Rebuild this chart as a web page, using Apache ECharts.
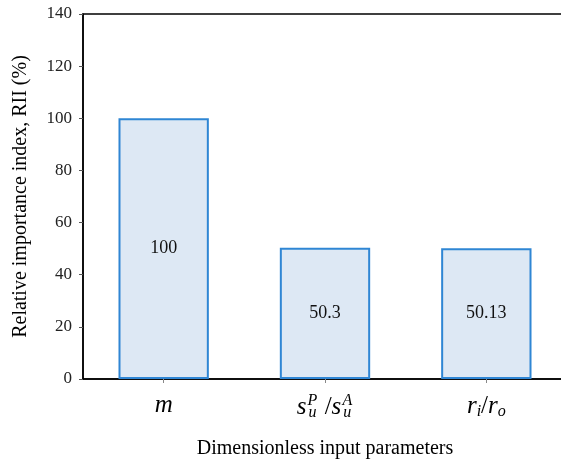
<!DOCTYPE html>
<html><head><meta charset="utf-8">
<script src="https://cdn.jsdelivr.net/npm/echarts@6/dist/echarts.min.js"></script>
<style>html,body{margin:0;padding:0;background:#fff}#c{width:561px;height:460px}</style>
</head><body><div id="c"></div>
<script>
const categories = ['m', 'ratio_s', 'ratio_r'];
const categoryLabels = [
  '{it|m}',
  '{it|s}{sp| }{subz|u}{supz|P}{sp| }{n| /}{it|s}{sp| }{subz|u}{supz|A}{sp| }',
  '{it|r}{sub|i}{n|/}{it|r}{sub|o}'
];
const riiValues = [100, 50.3, 50.13];
const riiLabels = ['100', '50.3', '50.13'];
const yTicks = [0, 20, 40, 60, 80, 100, 120, 140];

const serif = '"Liberation Serif", "Times New Roman", serif';
const chart = echarts.init(document.getElementById('c'));
chart.setOption({
  animation: false,
  grid: { left: 83, width: 484, top: 14, height: 365, outerBoundsMode: 'none', containLabel: false,
    show: true, borderColor: '#000', borderWidth: 1.5, backgroundColor: 'transparent' },
  xAxis: {
    type: 'category',
    data: categories,
    name: 'Dimensionless input parameters',
    nameLocation: 'middle',
    nameGap: 60,
    nameTextStyle: { fontFamily: serif, fontSize: 20, color: '#000' },
    axisLine: { lineStyle: { color: '#000', width: 1.5 } },
    axisTick: { show: true, alignWithLabel: true, length: 4, lineStyle: { color: '#888' } },
    axisLabel: {
      margin: 14,
      interval: 0,
      hideOverlap: false,
      formatter: (v, i) => categoryLabels[i],
      rich: {
        it: { fontFamily: serif, fontSize: 25, fontStyle: 'italic', color: '#000' },
        n: { fontFamily: serif, fontSize: 25, color: '#000' },
        sp: { fontFamily: serif, fontSize: 4, width: 6 },
        sub: { fontFamily: serif, fontSize: 16, fontStyle: 'italic', color: '#000', padding: [11, 0, 0, 0] },
        subz: { fontFamily: serif, fontSize: 16, fontStyle: 'italic', color: '#000', padding: [11, 0, 0, 0], width: 0 },
        supz: { fontFamily: serif, fontSize: 16, fontStyle: 'italic', color: '#000', padding: [0, 0, 13, 0], width: 0 }
      }
    }
  },
  yAxis: {
    type: 'value',
    min: 0, max: 140, interval: 20,
    name: 'Relative importance index, RII (%)',
    nameLocation: 'middle',
    nameGap: 52,
    nameRotate: 90,
    nameTextStyle: { fontFamily: serif, fontSize: 20, color: '#000' },
    axisLine: { show: true, lineStyle: { color: '#000', width: 1.5 } },
    axisTick: { show: true, length: 4, lineStyle: { color: '#555' } },
    splitLine: { show: false },
    axisLabel: { margin: 11, fontFamily: serif, fontSize: 17, color: '#222',
      formatter: v => yTicks.includes(v) ? String(v) : '' }
  },
  series: [{
    type: 'bar',
    data: riiValues,
    barWidth: '56%',
    itemStyle: { color: '#dde8f4', borderColor: '#2f86d4', borderWidth: 2 },
    label: { show: true, position: 'inside', fontFamily: serif, fontSize: 18, color: '#111',
      formatter: p => riiLabels[p.dataIndex] }
  }]
});
</script></body></html>
